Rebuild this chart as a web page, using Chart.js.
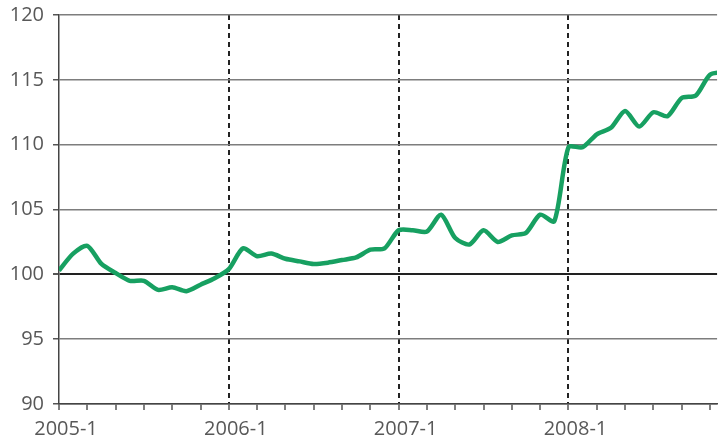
<!DOCTYPE html>
<html>
<head>
<meta charset="utf-8">
<script src="https://cdn.jsdelivr.net/npm/chart.js@4.4.1/dist/chart.umd.min.js"></script>
<style>
  html, body { margin: 0; padding: 0; background: #fff; overflow: hidden; }
  #wrap { width: 719px; height: 441px; }
</style>
</head>
<body>
<div id="wrap"><canvas id="chart"></canvas></div>
<script>
// monthly labels 2005-1 .. 2008-12
const months = [];
for (let y = 2005; y <= 2008; y++) {
  for (let m = 1; m <= 12; m++) months.push(y + '-' + m);
}

// index values
const values = [
  100.3, 101.6, 102.2, 100.8, 100.1, 99.5, 99.5, 98.8, 99.0, 98.7, 99.2, 99.7,
  100.4, 102.0, 101.4, 101.6, 101.2, 101.0, 100.8, 100.9, 101.1, 101.3, 101.9, 102.0,
  103.4, 103.4, 103.3, 104.6, 102.8, 102.3, 103.4, 102.5, 103.0, 103.2, 104.6, 104.1,
  109.8, 109.8, 110.8, 111.3, 112.6, 111.4, 112.5, 112.2, 113.6, 113.8, 115.4, 115.6
];

const yTicks = [90, 95, 100, 105, 110, 115, 120];

const textColor = '#585858';
const font = { family: 'Open Sans', size: 20, lineHeight: 1 };

const ctx = document.getElementById('chart').getContext('2d');
new Chart(ctx, {
  type: 'line',
  data: {
    datasets: [{
      data: values.map((v, i) => ({ x: i, y: v })),
      borderColor: '#17a061',
      borderWidth: 4.5,
      pointRadius: 0,
      tension: 0.25,
      fill: false
    }]
  },
  options: {
    responsive: true,
    maintainAspectRatio: false,
    animation: false,
    layout: { padding: 0 },
    plugins: { legend: { display: false }, tooltip: { enabled: false } },
    scales: {
      x: {
        type: 'linear',
        min: 0,
        max: 46.5,
        afterFit: s => { s.height = 37; },
        ticks: {
          stepSize: 2,
          includeBounds: false,
          autoSkip: false,
          maxRotation: 0,
          labelOffset: 7,
          padding: 9,
          color: textColor,
          font: font,
          callback: v => (v % 12 === 0 ? months[v] : '')
        },
        grid: {
          color: c => (c.tick && c.tick.value % 12 === 0 && c.tick.value > 0 ? '#222' : 'rgba(0,0,0,0)'),
          lineWidth: 2,
          tickColor: '#555',
          tickWidth: 1.5,
          tickLength: 6,
          tickBorderDash: []
        },
        border: { color: '#444', width: 1.5, dash: [5, 4] }
      },
      y: {
        min: 90,
        max: 120,
        afterFit: s => { s.width = 59; s.paddingTop = 15; },
        afterBuildTicks: s => { s.ticks = yTicks.map(v => ({ value: v })); },
        ticks: {
          color: textColor,
          font: font,
          padding: 9
        },
        grid: {
          color: c => (c.tick && c.tick.value === 100 ? '#222' : '#7d7d7d'),
          lineWidth: c => (c.tick && c.tick.value === 100 ? 2 : 1.5),
          tickColor: '#555',
          tickLength: 6
        },
        border: { color: '#444', width: 1.5 }
      }
    }
  }
});
</script>
</body>
</html>
